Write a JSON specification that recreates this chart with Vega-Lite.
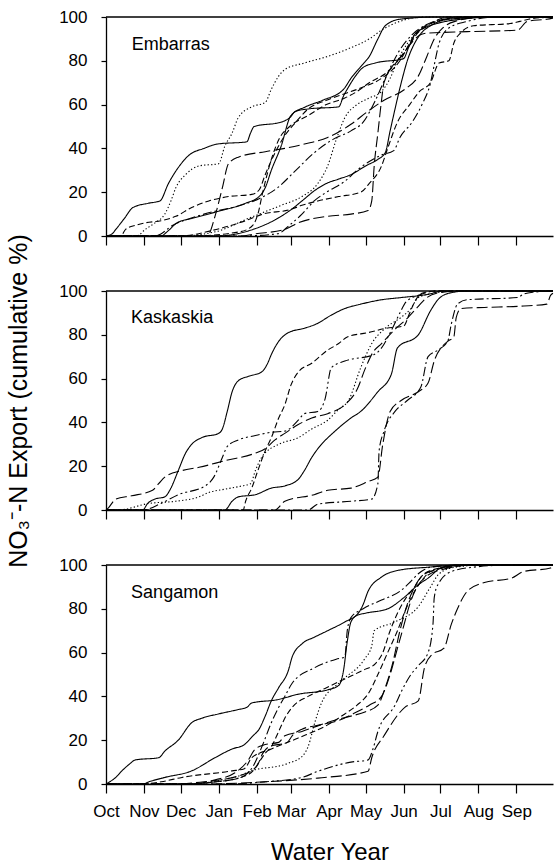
{
"$schema": "https://vega.github.io/schema/vega-lite/v6.json",
"background": "white",
"padding": {"left": 6, "top": 8, "right": 0, "bottom": 2},
"spacing": 55,
"bounds": "flush",
"config": {
  "font": "Liberation Sans",
  "view": {"stroke": null},
  "axis": {"grid": false, "domainColor": "black", "tickColor": "black", "labelColor": "black", "titleColor": "black", "domainWidth": 1.3, "tickWidth": 1.2, "labelFont": "Liberation Sans", "titleFont": "Liberation Sans", "labelFontSize": 17, "titleFontWeight": "normal"}
},
"datasets": {"c": [
{"s":"E1","d":0,"v":0},{"s":"E1","d":5,"v":1},{"s":"E1","d":8,"v":3},{"s":"E1","d":15,"v":8},{"s":"E1","d":22,"v":13},{"s":"E1","d":35,"v":15},{"s":"E1","d":44,"v":16},{"s":"E1","d":51,"v":24},{"s":"E1","d":60,"v":32},{"s":"E1","d":68,"v":37},{"s":"E1","d":80,"v":40},{"s":"E1","d":91,"v":42},{"s":"E1","d":115,"v":43},{"s":"E1","d":118,"v":47},{"s":"E1","d":121,"v":50},{"s":"E1","d":143,"v":52},{"s":"E1","d":150,"v":54},{"s":"E1","d":155,"v":57},{"s":"E1","d":165,"v":58},{"s":"E1","d":190,"v":59},{"s":"E1","d":194,"v":64},{"s":"E1","d":198,"v":68},{"s":"E1","d":205,"v":74},{"s":"E1","d":210,"v":77},{"s":"E1","d":220,"v":79},{"s":"E1","d":243,"v":81},{"s":"E1","d":247,"v":86},{"s":"E1","d":252,"v":92},{"s":"E1","d":260,"v":95},{"s":"E1","d":270,"v":97},{"s":"E1","d":290,"v":99},{"s":"E1","d":320,"v":100},{"s":"E1","d":365,"v":100},
{"s":"E2","d":0,"v":0},{"s":"E2","d":45,"v":0},{"s":"E2","d":50,"v":2},{"s":"E2","d":58,"v":6},{"s":"E2","d":70,"v":8},{"s":"E2","d":90,"v":11},{"s":"E2","d":114,"v":15},{"s":"E2","d":125,"v":18},{"s":"E2","d":130,"v":22},{"s":"E2","d":135,"v":30},{"s":"E2","d":143,"v":41},{"s":"E2","d":151,"v":55},{"s":"E2","d":163,"v":59},{"s":"E2","d":177,"v":62},{"s":"E2","d":194,"v":67},{"s":"E2","d":200,"v":72},{"s":"E2","d":209,"v":78},{"s":"E2","d":215,"v":82},{"s":"E2","d":222,"v":90},{"s":"E2","d":228,"v":96},{"s":"E2","d":240,"v":99},{"s":"E2","d":270,"v":100},{"s":"E2","d":365,"v":100},
{"s":"E3","d":0,"v":0},{"s":"E3","d":90,"v":0},{"s":"E3","d":120,"v":3},{"s":"E3","d":140,"v":8},{"s":"E3","d":151,"v":12},{"s":"E3","d":160,"v":16},{"s":"E3","d":171,"v":21},{"s":"E3","d":180,"v":24},{"s":"E3","d":190,"v":26},{"s":"E3","d":200,"v":28},{"s":"E3","d":212,"v":32},{"s":"E3","d":222,"v":35},{"s":"E3","d":228,"v":38},{"s":"E3","d":232,"v":48},{"s":"E3","d":236,"v":58},{"s":"E3","d":242,"v":72},{"s":"E3","d":246,"v":80},{"s":"E3","d":252,"v":88},{"s":"E3","d":258,"v":93},{"s":"E3","d":265,"v":96},{"s":"E3","d":280,"v":99},{"s":"E3","d":320,"v":100},{"s":"E3","d":365,"v":100},
{"s":"E4","d":0,"v":0},{"s":"E4","d":25,"v":0},{"s":"E4","d":32,"v":3},{"s":"E4","d":40,"v":6},{"s":"E4","d":48,"v":10},{"s":"E4","d":53,"v":16},{"s":"E4","d":57,"v":22},{"s":"E4","d":65,"v":28},{"s":"E4","d":76,"v":32},{"s":"E4","d":92,"v":33},{"s":"E4","d":97,"v":41},{"s":"E4","d":103,"v":47},{"s":"E4","d":108,"v":54},{"s":"E4","d":119,"v":59},{"s":"E4","d":130,"v":61},{"s":"E4","d":135,"v":67},{"s":"E4","d":141,"v":73},{"s":"E4","d":146,"v":76},{"s":"E4","d":162,"v":79},{"s":"E4","d":181,"v":82},{"s":"E4","d":200,"v":86},{"s":"E4","d":215,"v":90},{"s":"E4","d":225,"v":94},{"s":"E4","d":240,"v":98},{"s":"E4","d":260,"v":100},{"s":"E4","d":365,"v":100},
{"s":"E5","d":0,"v":0},{"s":"E5","d":60,"v":0},{"s":"E5","d":90,"v":2},{"s":"E5","d":116,"v":8},{"s":"E5","d":143,"v":14},{"s":"E5","d":160,"v":18},{"s":"E5","d":173,"v":24},{"s":"E5","d":181,"v":32},{"s":"E5","d":188,"v":44},{"s":"E5","d":195,"v":54},{"s":"E5","d":205,"v":60},{"s":"E5","d":215,"v":63},{"s":"E5","d":225,"v":66},{"s":"E5","d":232,"v":72},{"s":"E5","d":238,"v":80},{"s":"E5","d":245,"v":87},{"s":"E5","d":252,"v":92},{"s":"E5","d":262,"v":96},{"s":"E5","d":280,"v":99},{"s":"E5","d":310,"v":100},{"s":"E5","d":365,"v":100},
{"s":"E6","d":0,"v":0},{"s":"E6","d":80,"v":0},{"s":"E6","d":84,"v":1},{"s":"E6","d":89,"v":9},{"s":"E6","d":95,"v":22},{"s":"E6","d":100,"v":33},{"s":"E6","d":108,"v":36},{"s":"E6","d":130,"v":38.5},{"s":"E6","d":146,"v":40},{"s":"E6","d":162,"v":42},{"s":"E6","d":181,"v":45},{"s":"E6","d":200,"v":51},{"s":"E6","d":214,"v":57},{"s":"E6","d":227,"v":62},{"s":"E6","d":244,"v":67},{"s":"E6","d":255,"v":73},{"s":"E6","d":262,"v":82},{"s":"E6","d":268,"v":90},{"s":"E6","d":275,"v":95},{"s":"E6","d":285,"v":98},{"s":"E6","d":310,"v":100},{"s":"E6","d":365,"v":100},
{"s":"E7","d":0,"v":0},{"s":"E7","d":110,"v":0},{"s":"E7","d":122,"v":1},{"s":"E7","d":146,"v":3},{"s":"E7","d":157,"v":6},{"s":"E7","d":181,"v":9},{"s":"E7","d":200,"v":10},{"s":"E7","d":214,"v":11.6},{"s":"E7","d":217,"v":16},{"s":"E7","d":219,"v":32},{"s":"E7","d":222,"v":47},{"s":"E7","d":225,"v":62},{"s":"E7","d":227,"v":70},{"s":"E7","d":241,"v":82},{"s":"E7","d":260,"v":92.5},{"s":"E7","d":295,"v":93.3},{"s":"E7","d":336,"v":94},{"s":"E7","d":344,"v":98},{"s":"E7","d":360,"v":99},{"s":"E7","d":365,"v":99.5},
{"s":"E8","d":0,"v":0},{"s":"E8","d":60,"v":0},{"s":"E8","d":90,"v":3},{"s":"E8","d":114,"v":7},{"s":"E8","d":128,"v":10},{"s":"E8","d":150,"v":12},{"s":"E8","d":160,"v":14},{"s":"E8","d":173,"v":16},{"s":"E8","d":190,"v":18},{"s":"E8","d":208,"v":20},{"s":"E8","d":215,"v":24},{"s":"E8","d":225,"v":32},{"s":"E8","d":230,"v":40},{"s":"E8","d":238,"v":52},{"s":"E8","d":248,"v":60},{"s":"E8","d":256,"v":66},{"s":"E8","d":265,"v":70},{"s":"E8","d":272,"v":79},{"s":"E8","d":280,"v":80},{"s":"E8","d":284,"v":88},{"s":"E8","d":290,"v":93},{"s":"E8","d":300,"v":96},{"s":"E8","d":330,"v":97},{"s":"E8","d":338,"v":98},{"s":"E8","d":345,"v":99},{"s":"E8","d":365,"v":100},
{"s":"E9","d":0,"v":0},{"s":"E9","d":12,"v":0},{"s":"E9","d":16,"v":3},{"s":"E9","d":25,"v":5},{"s":"E9","d":32,"v":6},{"s":"E9","d":45,"v":7},{"s":"E9","d":57,"v":9},{"s":"E9","d":70,"v":13},{"s":"E9","d":84,"v":16},{"s":"E9","d":100,"v":18},{"s":"E9","d":119,"v":19},{"s":"E9","d":125,"v":21},{"s":"E9","d":130,"v":28},{"s":"E9","d":138,"v":38},{"s":"E9","d":145,"v":45},{"s":"E9","d":155,"v":52},{"s":"E9","d":165,"v":58},{"s":"E9","d":180,"v":62},{"s":"E9","d":195,"v":65},{"s":"E9","d":210,"v":68},{"s":"E9","d":225,"v":72},{"s":"E9","d":240,"v":80},{"s":"E9","d":250,"v":90},{"s":"E9","d":258,"v":95},{"s":"E9","d":270,"v":98},{"s":"E9","d":290,"v":100},{"s":"E9","d":365,"v":100},
{"s":"E10","d":0,"v":0},{"s":"E10","d":40,"v":0},{"s":"E10","d":55,"v":5},{"s":"E10","d":80,"v":10},{"s":"E10","d":110,"v":14},{"s":"E10","d":125,"v":17},{"s":"E10","d":140,"v":22},{"s":"E10","d":155,"v":30},{"s":"E10","d":170,"v":38},{"s":"E10","d":185,"v":44},{"s":"E10","d":200,"v":48},{"s":"E10","d":210,"v":52},{"s":"E10","d":220,"v":62},{"s":"E10","d":228,"v":72},{"s":"E10","d":240,"v":85},{"s":"E10","d":250,"v":92},{"s":"E10","d":260,"v":96},{"s":"E10","d":275,"v":99},{"s":"E10","d":300,"v":100},{"s":"E10","d":365,"v":100},
{"s":"E11","d":0,"v":0},{"s":"E11","d":110,"v":0},{"s":"E11","d":140,"v":1},{"s":"E11","d":150,"v":5},{"s":"E11","d":160,"v":10},{"s":"E11","d":170,"v":16},{"s":"E11","d":180,"v":20},{"s":"E11","d":195,"v":25},{"s":"E11","d":205,"v":30},{"s":"E11","d":215,"v":34},{"s":"E11","d":225,"v":37},{"s":"E11","d":235,"v":39},{"s":"E11","d":240,"v":45},{"s":"E11","d":250,"v":52},{"s":"E11","d":258,"v":60},{"s":"E11","d":265,"v":70},{"s":"E11","d":268,"v":78},{"s":"E11","d":272,"v":88},{"s":"E11","d":280,"v":95},{"s":"E11","d":295,"v":98},{"s":"E11","d":320,"v":100},{"s":"E11","d":365,"v":100},
{"s":"E12","d":0,"v":0},{"s":"E12","d":70,"v":0},{"s":"E12","d":110,"v":2},{"s":"E12","d":120,"v":5},{"s":"E12","d":124,"v":10},{"s":"E12","d":128,"v":20},{"s":"E12","d":135,"v":35},{"s":"E12","d":142,"v":45},{"s":"E12","d":150,"v":50},{"s":"E12","d":165,"v":55},{"s":"E12","d":180,"v":60},{"s":"E12","d":195,"v":63},{"s":"E12","d":205,"v":66},{"s":"E12","d":215,"v":70},{"s":"E12","d":230,"v":75},{"s":"E12","d":245,"v":85},{"s":"E12","d":255,"v":93},{"s":"E12","d":265,"v":97},{"s":"E12","d":280,"v":100},{"s":"E12","d":365,"v":100},
{"s":"K1","d":0,"v":0},{"s":"K1","d":30,"v":0},{"s":"K1","d":34,"v":3},{"s":"K1","d":40,"v":5},{"s":"K1","d":48,"v":6},{"s":"K1","d":53,"v":10},{"s":"K1","d":59,"v":18},{"s":"K1","d":65,"v":26},{"s":"K1","d":70,"v":30},{"s":"K1","d":78,"v":33},{"s":"K1","d":92,"v":35},{"s":"K1","d":95,"v":37},{"s":"K1","d":99,"v":45},{"s":"K1","d":103,"v":54},{"s":"K1","d":108,"v":59},{"s":"K1","d":116,"v":61},{"s":"K1","d":127,"v":63},{"s":"K1","d":132,"v":67},{"s":"K1","d":135,"v":71},{"s":"K1","d":141,"v":77},{"s":"K1","d":149,"v":81},{"s":"K1","d":162,"v":83},{"s":"K1","d":172,"v":85},{"s":"K1","d":184,"v":89},{"s":"K1","d":195,"v":92},{"s":"K1","d":208,"v":94},{"s":"K1","d":225,"v":96},{"s":"K1","d":241,"v":97},{"s":"K1","d":263,"v":98.5},{"s":"K1","d":275,"v":100},{"s":"K1","d":365,"v":100},
{"s":"K2","d":0,"v":0},{"s":"K2","d":97,"v":0},{"s":"K2","d":103,"v":4},{"s":"K2","d":108,"v":6},{"s":"K2","d":122,"v":7},{"s":"K2","d":135,"v":10},{"s":"K2","d":146,"v":11},{"s":"K2","d":157,"v":14},{"s":"K2","d":162,"v":18},{"s":"K2","d":168,"v":24},{"s":"K2","d":173,"v":28},{"s":"K2","d":187,"v":36},{"s":"K2","d":200,"v":42},{"s":"K2","d":208,"v":45},{"s":"K2","d":222,"v":54},{"s":"K2","d":233,"v":62},{"s":"K2","d":238,"v":74},{"s":"K2","d":255,"v":80},{"s":"K2","d":265,"v":91},{"s":"K2","d":271,"v":96},{"s":"K2","d":280,"v":99},{"s":"K2","d":295,"v":100},{"s":"K2","d":365,"v":100},
{"s":"K3","d":0,"v":0},{"s":"K3","d":2,"v":1},{"s":"K3","d":8,"v":5},{"s":"K3","d":21,"v":6.5},{"s":"K3","d":38,"v":9},{"s":"K3","d":43,"v":12},{"s":"K3","d":48,"v":15},{"s":"K3","d":62,"v":18},{"s":"K3","d":76,"v":19.5},{"s":"K3","d":97,"v":22.5},{"s":"K3","d":122,"v":26},{"s":"K3","d":130,"v":28},{"s":"K3","d":138,"v":32},{"s":"K3","d":146,"v":35},{"s":"K3","d":157,"v":39},{"s":"K3","d":168,"v":42},{"s":"K3","d":181,"v":44},{"s":"K3","d":195,"v":48},{"s":"K3","d":205,"v":55},{"s":"K3","d":212,"v":65},{"s":"K3","d":218,"v":72},{"s":"K3","d":225,"v":76},{"s":"K3","d":235,"v":82},{"s":"K3","d":245,"v":87},{"s":"K3","d":255,"v":93},{"s":"K3","d":262,"v":97},{"s":"K3","d":270,"v":99},{"s":"K3","d":290,"v":100},{"s":"K3","d":365,"v":100},
{"s":"K4","d":0,"v":0},{"s":"K4","d":10,"v":0},{"s":"K4","d":35,"v":3},{"s":"K4","d":57,"v":4},{"s":"K4","d":76,"v":6},{"s":"K4","d":84,"v":8},{"s":"K4","d":97,"v":9.5},{"s":"K4","d":111,"v":11},{"s":"K4","d":118,"v":12},{"s":"K4","d":122,"v":18},{"s":"K4","d":127,"v":24},{"s":"K4","d":141,"v":30},{"s":"K4","d":157,"v":33},{"s":"K4","d":168,"v":37},{"s":"K4","d":181,"v":41},{"s":"K4","d":190,"v":46},{"s":"K4","d":198,"v":50},{"s":"K4","d":208,"v":65},{"s":"K4","d":217,"v":76},{"s":"K4","d":228,"v":83},{"s":"K4","d":241,"v":88},{"s":"K4","d":249,"v":92},{"s":"K4","d":255,"v":97},{"s":"K4","d":268,"v":99},{"s":"K4","d":285,"v":100},{"s":"K4","d":365,"v":100},
{"s":"K5","d":0,"v":0},{"s":"K5","d":30,"v":0},{"s":"K5","d":45,"v":3},{"s":"K5","d":59,"v":7},{"s":"K5","d":81,"v":11},{"s":"K5","d":88,"v":15},{"s":"K5","d":95,"v":24},{"s":"K5","d":99,"v":29},{"s":"K5","d":108,"v":32},{"s":"K5","d":122,"v":34},{"s":"K5","d":135,"v":35.5},{"s":"K5","d":146,"v":36},{"s":"K5","d":157,"v":41},{"s":"K5","d":162,"v":44},{"s":"K5","d":173,"v":45},{"s":"K5","d":179,"v":51},{"s":"K5","d":184,"v":65},{"s":"K5","d":195,"v":68},{"s":"K5","d":219,"v":71},{"s":"K5","d":225,"v":74},{"s":"K5","d":233,"v":82},{"s":"K5","d":240,"v":90},{"s":"K5","d":245,"v":95},{"s":"K5","d":255,"v":98},{"s":"K5","d":270,"v":100},{"s":"K5","d":365,"v":100},
{"s":"K6","d":0,"v":0},{"s":"K6","d":112,"v":0},{"s":"K6","d":114,"v":4},{"s":"K6","d":119,"v":10},{"s":"K6","d":124,"v":18},{"s":"K6","d":130,"v":27},{"s":"K6","d":135,"v":33},{"s":"K6","d":141,"v":42},{"s":"K6","d":146,"v":48},{"s":"K6","d":151,"v":57},{"s":"K6","d":157,"v":63},{"s":"K6","d":168,"v":67},{"s":"K6","d":181,"v":73},{"s":"K6","d":190,"v":76},{"s":"K6","d":197,"v":79},{"s":"K6","d":214,"v":81},{"s":"K6","d":229,"v":83},{"s":"K6","d":243,"v":84},{"s":"K6","d":248,"v":90},{"s":"K6","d":252,"v":95},{"s":"K6","d":258,"v":99},{"s":"K6","d":270,"v":100},{"s":"K6","d":365,"v":100},
{"s":"K7","d":0,"v":0},{"s":"K7","d":138,"v":0},{"s":"K7","d":146,"v":4},{"s":"K7","d":170,"v":7},{"s":"K7","d":181,"v":9},{"s":"K7","d":200,"v":10},{"s":"K7","d":214,"v":13},{"s":"K7","d":222,"v":15},{"s":"K7","d":226,"v":30},{"s":"K7","d":232,"v":45},{"s":"K7","d":241,"v":50},{"s":"K7","d":255,"v":54},{"s":"K7","d":263,"v":58},{"s":"K7","d":268,"v":68},{"s":"K7","d":279,"v":77},{"s":"K7","d":284,"v":79},{"s":"K7","d":286,"v":88},{"s":"K7","d":290,"v":92},{"s":"K7","d":309,"v":92.5},{"s":"K7","d":336,"v":93},{"s":"K7","d":360,"v":94},{"s":"K7","d":363,"v":98},{"s":"K7","d":365,"v":99},
{"s":"K8","d":0,"v":0},{"s":"K8","d":165,"v":0},{"s":"K8","d":173,"v":2.7},{"s":"K8","d":200,"v":4},{"s":"K8","d":217,"v":5},{"s":"K8","d":222,"v":12},{"s":"K8","d":223,"v":27},{"s":"K8","d":227,"v":36},{"s":"K8","d":236,"v":45},{"s":"K8","d":246,"v":50},{"s":"K8","d":257,"v":56},{"s":"K8","d":263,"v":70},{"s":"K8","d":271,"v":73},{"s":"K8","d":279,"v":77},{"s":"K8","d":282,"v":85},{"s":"K8","d":287,"v":94},{"s":"K8","d":295,"v":96},{"s":"K8","d":336,"v":97},{"s":"K8","d":341,"v":98.6},{"s":"K8","d":350,"v":99.5},{"s":"K8","d":365,"v":100},
{"s":"S1","d":0,"v":0},{"s":"S1","d":3,"v":1},{"s":"S1","d":8,"v":3},{"s":"S1","d":13,"v":6},{"s":"S1","d":19,"v":9},{"s":"S1","d":24,"v":11},{"s":"S1","d":43,"v":12},{"s":"S1","d":48,"v":15},{"s":"S1","d":59,"v":20},{"s":"S1","d":70,"v":28},{"s":"S1","d":78,"v":30},{"s":"S1","d":92,"v":32},{"s":"S1","d":108,"v":34},{"s":"S1","d":115,"v":35},{"s":"S1","d":119,"v":37},{"s":"S1","d":140,"v":38.5},{"s":"S1","d":157,"v":41},{"s":"S1","d":181,"v":43},{"s":"S1","d":190,"v":45},{"s":"S1","d":194,"v":52},{"s":"S1","d":197,"v":65},{"s":"S1","d":200,"v":74},{"s":"S1","d":205,"v":77},{"s":"S1","d":212,"v":78},{"s":"S1","d":230,"v":80},{"s":"S1","d":243,"v":85},{"s":"S1","d":255,"v":91},{"s":"S1","d":263,"v":94},{"s":"S1","d":275,"v":99},{"s":"S1","d":300,"v":100},{"s":"S1","d":365,"v":100},
{"s":"S2","d":0,"v":0},{"s":"S2","d":30,"v":0},{"s":"S2","d":35,"v":1},{"s":"S2","d":48,"v":3},{"s":"S2","d":70,"v":6},{"s":"S2","d":89,"v":12},{"s":"S2","d":103,"v":16},{"s":"S2","d":113,"v":18},{"s":"S2","d":120,"v":22},{"s":"S2","d":125,"v":25},{"s":"S2","d":130,"v":31},{"s":"S2","d":135,"v":38},{"s":"S2","d":141,"v":44},{"s":"S2","d":149,"v":52},{"s":"S2","d":152,"v":58},{"s":"S2","d":160,"v":64},{"s":"S2","d":170,"v":67},{"s":"S2","d":181,"v":70},{"s":"S2","d":195,"v":74},{"s":"S2","d":206,"v":78},{"s":"S2","d":210,"v":82},{"s":"S2","d":214,"v":88},{"s":"S2","d":225,"v":94.5},{"s":"S2","d":238,"v":97.5},{"s":"S2","d":263,"v":99},{"s":"S2","d":290,"v":100},{"s":"S2","d":365,"v":100},
{"s":"S3","d":0,"v":0},{"s":"S3","d":60,"v":0},{"s":"S3","d":90,"v":1},{"s":"S3","d":110,"v":3},{"s":"S3","d":120,"v":8},{"s":"S3","d":128,"v":18},{"s":"S3","d":135,"v":28},{"s":"S3","d":141,"v":35},{"s":"S3","d":146,"v":40},{"s":"S3","d":152,"v":46},{"s":"S3","d":170,"v":53},{"s":"S3","d":188,"v":57},{"s":"S3","d":195,"v":58},{"s":"S3","d":197,"v":70},{"s":"S3","d":200,"v":76},{"s":"S3","d":210,"v":80},{"s":"S3","d":225,"v":84},{"s":"S3","d":240,"v":88},{"s":"S3","d":248,"v":92},{"s":"S3","d":255,"v":96},{"s":"S3","d":265,"v":99},{"s":"S3","d":290,"v":100},{"s":"S3","d":365,"v":100},
{"s":"S4","d":0,"v":0},{"s":"S4","d":70,"v":0},{"s":"S4","d":90,"v":2},{"s":"S4","d":105,"v":5},{"s":"S4","d":115,"v":10},{"s":"S4","d":122,"v":16},{"s":"S4","d":130,"v":18},{"s":"S4","d":141,"v":19},{"s":"S4","d":146,"v":22},{"s":"S4","d":160,"v":24},{"s":"S4","d":175,"v":27},{"s":"S4","d":186,"v":29},{"s":"S4","d":200,"v":31},{"s":"S4","d":212,"v":33},{"s":"S4","d":222,"v":36},{"s":"S4","d":228,"v":44},{"s":"S4","d":234,"v":55},{"s":"S4","d":240,"v":70},{"s":"S4","d":246,"v":82},{"s":"S4","d":252,"v":90},{"s":"S4","d":258,"v":95},{"s":"S4","d":270,"v":98},{"s":"S4","d":290,"v":100},{"s":"S4","d":365,"v":100},
{"s":"S5","d":0,"v":0},{"s":"S5","d":70,"v":0},{"s":"S5","d":95,"v":2},{"s":"S5","d":110,"v":4},{"s":"S5","d":116,"v":5.5},{"s":"S5","d":149,"v":9.5},{"s":"S5","d":160,"v":12.5},{"s":"S5","d":165,"v":17},{"s":"S5","d":171,"v":29},{"s":"S5","d":176,"v":37},{"s":"S5","d":192,"v":47},{"s":"S5","d":211,"v":57},{"s":"S5","d":217,"v":63},{"s":"S5","d":219,"v":70},{"s":"S5","d":236,"v":74},{"s":"S5","d":255,"v":81},{"s":"S5","d":265,"v":90},{"s":"S5","d":272,"v":96},{"s":"S5","d":285,"v":99},{"s":"S5","d":310,"v":100},{"s":"S5","d":365,"v":100},
{"s":"S6","d":0,"v":0},{"s":"S6","d":100,"v":0},{"s":"S6","d":130,"v":1},{"s":"S6","d":160,"v":3},{"s":"S6","d":173,"v":5.8},{"s":"S6","d":200,"v":10},{"s":"S6","d":214,"v":11},{"s":"S6","d":218,"v":16},{"s":"S6","d":222,"v":24},{"s":"S6","d":236,"v":36},{"s":"S6","d":241,"v":42},{"s":"S6","d":249,"v":50},{"s":"S6","d":255,"v":54},{"s":"S6","d":263,"v":60},{"s":"S6","d":267,"v":73},{"s":"S6","d":268,"v":85},{"s":"S6","d":271,"v":91},{"s":"S6","d":282,"v":97},{"s":"S6","d":300,"v":99},{"s":"S6","d":330,"v":100},{"s":"S6","d":365,"v":100},
{"s":"S7","d":0,"v":0},{"s":"S7","d":80,"v":0},{"s":"S7","d":130,"v":1},{"s":"S7","d":173,"v":2.7},{"s":"S7","d":214,"v":5.8},{"s":"S7","d":217,"v":12},{"s":"S7","d":227,"v":22},{"s":"S7","d":244,"v":35},{"s":"S7","d":255,"v":38},{"s":"S7","d":260,"v":53},{"s":"S7","d":266,"v":59},{"s":"S7","d":276,"v":62},{"s":"S7","d":282,"v":73},{"s":"S7","d":287,"v":80},{"s":"S7","d":295,"v":88},{"s":"S7","d":309,"v":92},{"s":"S7","d":331,"v":94},{"s":"S7","d":341,"v":97},{"s":"S7","d":363,"v":98.6},{"s":"S7","d":365,"v":99},
{"s":"S8","d":0,"v":0},{"s":"S8","d":30,"v":0},{"s":"S8","d":45,"v":1},{"s":"S8","d":62,"v":3},{"s":"S8","d":103,"v":6},{"s":"S8","d":113,"v":7},{"s":"S8","d":119,"v":12},{"s":"S8","d":135,"v":16},{"s":"S8","d":157,"v":21},{"s":"S8","d":181,"v":27},{"s":"S8","d":195,"v":32},{"s":"S8","d":205,"v":36},{"s":"S8","d":215,"v":42},{"s":"S8","d":222,"v":50},{"s":"S8","d":230,"v":60},{"s":"S8","d":238,"v":70},{"s":"S8","d":245,"v":80},{"s":"S8","d":252,"v":88},{"s":"S8","d":258,"v":93},{"s":"S8","d":265,"v":97},{"s":"S8","d":280,"v":99},{"s":"S8","d":300,"v":100},{"s":"S8","d":365,"v":100},
{"s":"S9","d":0,"v":0},{"s":"S9","d":50,"v":0},{"s":"S9","d":80,"v":1},{"s":"S9","d":110,"v":4},{"s":"S9","d":123,"v":8},{"s":"S9","d":128,"v":14},{"s":"S9","d":133,"v":17},{"s":"S9","d":148,"v":19},{"s":"S9","d":152,"v":22},{"s":"S9","d":160,"v":25},{"s":"S9","d":175,"v":27},{"s":"S9","d":190,"v":29},{"s":"S9","d":205,"v":33},{"s":"S9","d":215,"v":36},{"s":"S9","d":225,"v":40},{"s":"S9","d":232,"v":50},{"s":"S9","d":238,"v":62},{"s":"S9","d":243,"v":72},{"s":"S9","d":248,"v":82},{"s":"S9","d":254,"v":90},{"s":"S9","d":262,"v":95},{"s":"S9","d":275,"v":98},{"s":"S9","d":300,"v":100},{"s":"S9","d":365,"v":100},
{"s":"S10","d":0,"v":0},{"s":"S10","d":60,"v":0},{"s":"S10","d":90,"v":1},{"s":"S10","d":110,"v":3},{"s":"S10","d":120,"v":6},{"s":"S10","d":125,"v":10},{"s":"S10","d":130,"v":14},{"s":"S10","d":135,"v":17},{"s":"S10","d":141,"v":24},{"s":"S10","d":146,"v":30},{"s":"S10","d":152,"v":35},{"s":"S10","d":165,"v":40},{"s":"S10","d":180,"v":44},{"s":"S10","d":195,"v":48},{"s":"S10","d":210,"v":52},{"s":"S10","d":220,"v":55},{"s":"S10","d":226,"v":60},{"s":"S10","d":232,"v":70},{"s":"S10","d":238,"v":78},{"s":"S10","d":245,"v":85},{"s":"S10","d":252,"v":90},{"s":"S10","d":258,"v":95},{"s":"S10","d":268,"v":98},{"s":"S10","d":290,"v":100},{"s":"S10","d":365,"v":100}
]},
"vconcat": [
{
  "width": 447, "height": 219,
  "layer": [
    {"data": {"name": "c"}, "transform": [{"filter": "substring(datum.s,0,1)==='E'"}],
     "mark": {"type": "line", "color": "black", "strokeWidth": 1.1, "interpolate": "monotone"},
     "encoding": {
       "x": {"field": "d", "type": "quantitative", "scale": {"domain": [0, 365], "nice": false, "zero": false}, "axis": {"values": [0,31,61,92,123,151,182,212,243,273,304,335], "labels": false, "tickSize": 9, "title": null}},
       "y": {"field": "v", "type": "quantitative", "scale": {"domain": [0, 100], "nice": false}, "axis": {"values": [0,20,40,60,80,100], "tickSize": 5, "labelPadding": 14, "title": null}},
       "detail": {"field": "s"},
       "strokeDash": {"field": "s", "type": "nominal", "legend": null, "scale": {"domain": ["E1","E2","E3","E4","E5","E6","E7","E8","E9","E10","E11","E12","K1","K2","K3","K4","K5","K6","K7","K8","S1","S2","S3","S4","S5","S6","S7","S8","S9","S10"], "range": [[1,0],[1,0],[1,0],[1.3,2.2],[1.3,2.2],[11,4],[11,4],[6,3],[6,3],[9,3,2,3],[9,3,2,3,2,3],[6,3],[1,0],[1,0],[11,4],[1.3,2.2],[9,3,2,3,2,3],[6,3],[11,4],[9,3,2,3],[1,0],[1,0],[9,3,2,3],[11,4],[1.3,2.2],[9,3,2,3,2,3],[11,4],[6,3],[11,4],[6,3]]}}
     }},
    {"data": {"values": [{}]}, "mark": {"type": "rule", "color": "black", "strokeWidth": 1.3}, "encoding": {"y": {"datum": 100, "type": "quantitative"}}},
    {"data": {"values": [{}]}, "mark": {"type": "text", "text": "Embarras", "align": "left", "baseline": "middle", "fontSize": 18, "font": "Liberation Sans", "color": "black"}, "encoding": {"x": {"datum": 21, "type": "quantitative"}, "y": {"datum": 87, "type": "quantitative"}}}
  ]
},
{
  "width": 447, "height": 219,
  "layer": [
    {"data": {"name": "c"}, "transform": [{"filter": "substring(datum.s,0,1)==='K'"}],
     "mark": {"type": "line", "color": "black", "strokeWidth": 1.1, "interpolate": "monotone"},
     "encoding": {
       "x": {"field": "d", "type": "quantitative", "scale": {"domain": [0, 365], "nice": false, "zero": false}, "axis": {"values": [0,31,61,92,123,151,182,212,243,273,304,335], "labels": false, "tickSize": 9, "title": null}},
       "y": {"field": "v", "type": "quantitative", "scale": {"domain": [0, 100], "nice": false}, "axis": {"values": [0,20,40,60,80,100], "tickSize": 5, "labelPadding": 14, "title": "NO₃⁻-N Export (cumulative %)", "titleFontSize": 25, "titlePadding": 27}},
       "detail": {"field": "s"},
       "strokeDash": {"field": "s", "type": "nominal", "legend": null, "scale": {"domain": ["E1","E2","E3","E4","E5","E6","E7","E8","E9","E10","E11","E12","K1","K2","K3","K4","K5","K6","K7","K8","S1","S2","S3","S4","S5","S6","S7","S8","S9","S10"], "range": [[1,0],[1,0],[1,0],[1.3,2.2],[1.3,2.2],[11,4],[11,4],[6,3],[6,3],[9,3,2,3],[9,3,2,3,2,3],[6,3],[1,0],[1,0],[11,4],[1.3,2.2],[9,3,2,3,2,3],[6,3],[11,4],[9,3,2,3],[1,0],[1,0],[9,3,2,3],[11,4],[1.3,2.2],[9,3,2,3,2,3],[11,4],[6,3],[11,4],[6,3]]}}
     }},
    {"data": {"values": [{}]}, "mark": {"type": "rule", "color": "black", "strokeWidth": 1.3}, "encoding": {"y": {"datum": 100, "type": "quantitative"}}},
    {"data": {"values": [{}]}, "mark": {"type": "text", "text": "Kaskaskia", "align": "left", "baseline": "middle", "fontSize": 18, "font": "Liberation Sans", "color": "black"}, "encoding": {"x": {"datum": 20.5, "type": "quantitative"}, "y": {"datum": 87.5, "type": "quantitative"}}}
  ]
},
{
  "width": 447, "height": 219,
  "layer": [
    {"data": {"name": "c"}, "transform": [{"filter": "substring(datum.s,0,1)==='S'"}],
     "mark": {"type": "line", "color": "black", "strokeWidth": 1.1, "interpolate": "monotone"},
     "encoding": {
       "x": {"field": "d", "type": "quantitative", "scale": {"domain": [0, 365], "nice": false, "zero": false}, "axis": {"values": [0,31,61,92,123,151,182,212,243,273,304,335], "labelExpr": "datum.value==0?'Oct':datum.value==31?'Nov':datum.value==61?'Dec':datum.value==92?'Jan':datum.value==123?'Feb':datum.value==151?'Mar':datum.value==182?'Apr':datum.value==212?'May':datum.value==243?'Jun':datum.value==273?'Jul':datum.value==304?'Aug':'Sep'", "labelOverlap": false, "labelFlush": false, "labelBound": false, "labelPadding": 10, "tickSize": 9, "title": "Water Year", "titleFontSize": 24, "titlePadding": 21}},
       "y": {"field": "v", "type": "quantitative", "scale": {"domain": [0, 100], "nice": false}, "axis": {"values": [0,20,40,60,80,100], "tickSize": 5, "labelPadding": 14, "title": null}},
       "detail": {"field": "s"},
       "strokeDash": {"field": "s", "type": "nominal", "legend": null, "scale": {"domain": ["E1","E2","E3","E4","E5","E6","E7","E8","E9","E10","E11","E12","K1","K2","K3","K4","K5","K6","K7","K8","S1","S2","S3","S4","S5","S6","S7","S8","S9","S10"], "range": [[1,0],[1,0],[1,0],[1.3,2.2],[1.3,2.2],[11,4],[11,4],[6,3],[6,3],[9,3,2,3],[9,3,2,3,2,3],[6,3],[1,0],[1,0],[11,4],[1.3,2.2],[9,3,2,3,2,3],[6,3],[11,4],[9,3,2,3],[1,0],[1,0],[9,3,2,3],[11,4],[1.3,2.2],[9,3,2,3,2,3],[11,4],[6,3],[11,4],[6,3]]}}
     }},
    {"data": {"values": [{}]}, "mark": {"type": "rule", "color": "black", "strokeWidth": 1.3}, "encoding": {"y": {"datum": 100, "type": "quantitative"}}},
    {"data": {"values": [{}]}, "mark": {"type": "text", "text": "Sangamon", "align": "left", "baseline": "middle", "fontSize": 18, "font": "Liberation Sans", "color": "black"}, "encoding": {"x": {"datum": 20.5, "type": "quantitative"}, "y": {"datum": 87, "type": "quantitative"}}}
  ]
}
]
}
